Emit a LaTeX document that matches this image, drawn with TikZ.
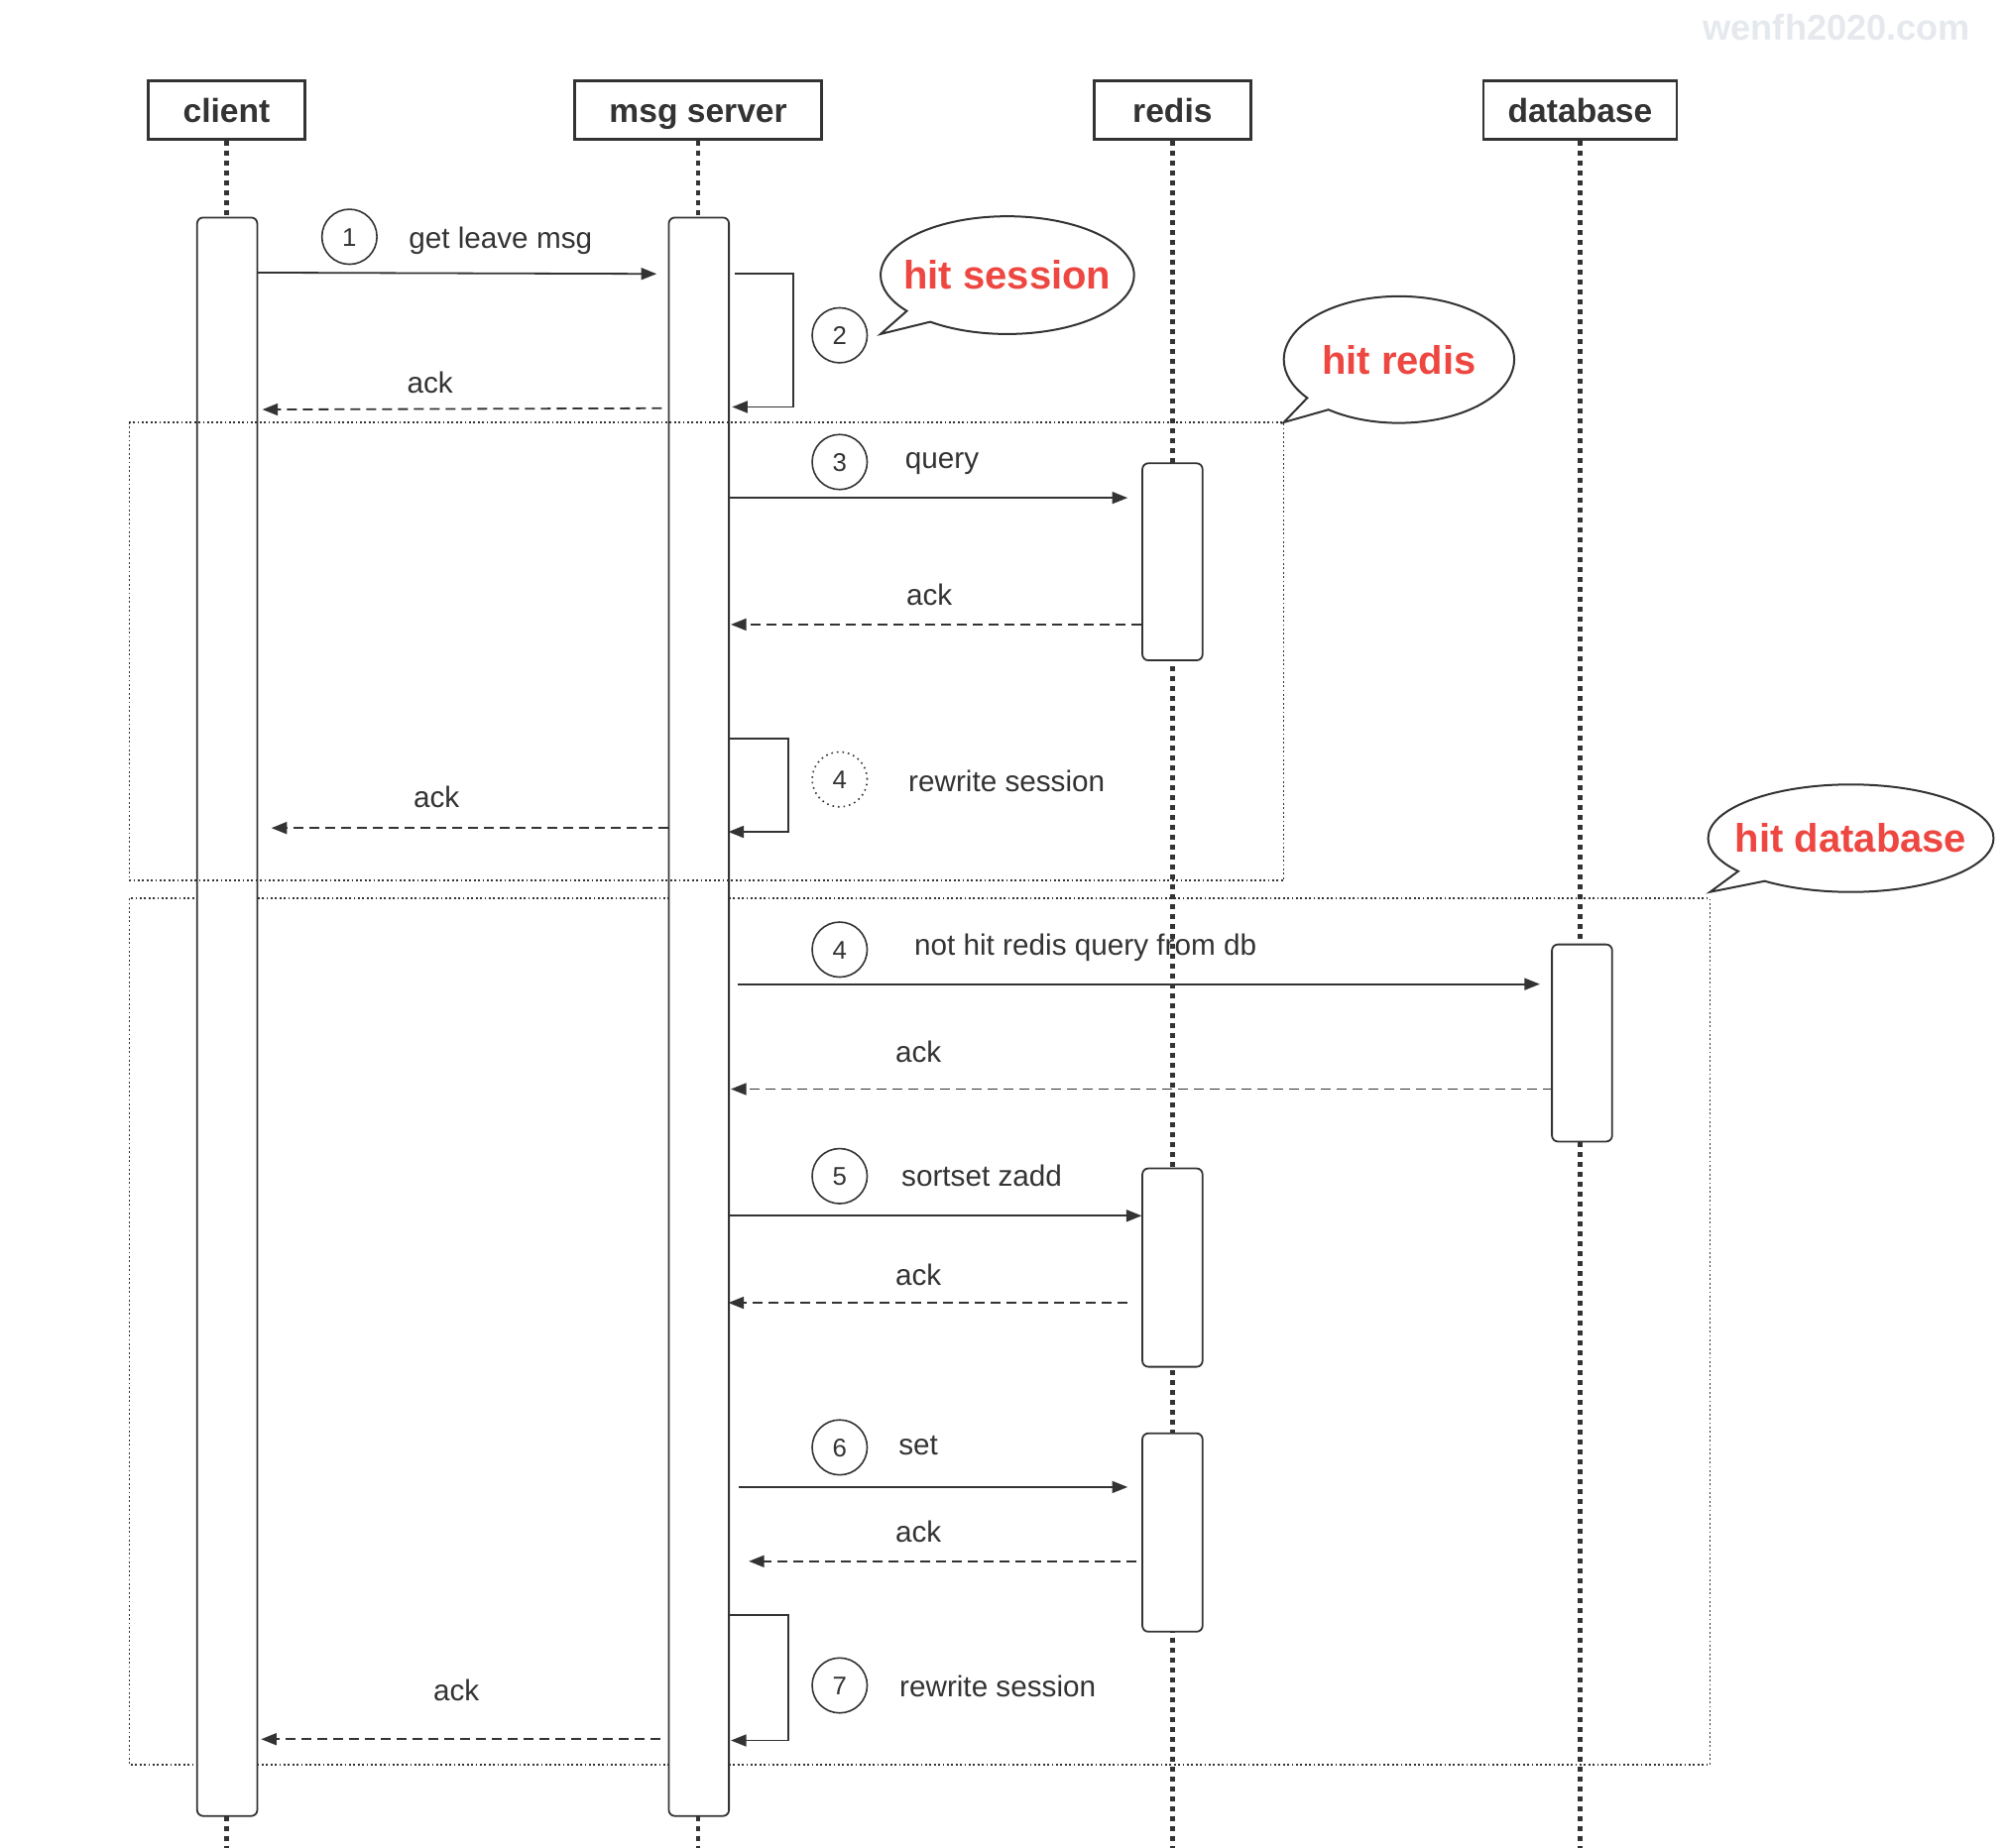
\documentclass[tikz,border=0pt]{standalone}
\usepackage{fontspec}
\setmainfont{Liberation Sans}
\usetikzlibrary{arrows.meta,shapes.callouts,shapes.geometric}
\newdimen\U \U=0.6454pt
\definecolor{ln}{RGB}{51,51,51}
\definecolor{hl}{RGB}{238,70,64}
\definecolor{wm}{RGB}{229,232,237}
\newcommand\fsz[1]{\fontsize{#1}{#1}\selectfont}
\tikzset{
  hdr/.style={draw=ln, line width=1.4pt, minimum width=#1, minimum height=46\U, inner sep=0,
    font=\bfseries\fsz{16.8pt}, text=ln, text height=12.0pt, text depth=0pt},
  life/.style={ln, line width=2.2pt, dash pattern=on 2.6pt off 2.4pt},
  actbar/.style={draw=ln, fill=white, line width=0.9pt, rounded corners=3pt, minimum width=47\U,
    minimum height=#1, inner sep=0},
  num/.style={circle, draw=ln, line width=0.8pt, minimum size=43\U, inner sep=0,
    font=\fsz{12.9pt}, text=ln, text height=9.2pt, text depth=0pt},
  lbl/.style={font=\fsz{14.85pt}, text=ln, inner sep=0, text height=10.6pt, text depth=0pt},
  msg/.style={ln, line width=0.9pt, -{Triangle[length=7.8pt, width=6pt]}},
  ret/.style={msg, dash pattern=on 5pt off 3pt},
  frm/.style={ln, line width=0.75pt, dash pattern=on 0.9pt off 1.3pt},
  bubble/.style={ellipse callout, draw=ln, fill=white, line width=1pt, inner sep=0},
  btxt/.style={font=\bfseries\fsz{20.0pt}, text=hl, inner sep=0, text height=14.3pt, text depth=0pt},
}
\begin{document}
\begin{tikzpicture}[x=0.6454pt,y=-0.6454pt]
\useasboundingbox (0,0) rectangle (1568,1444);

% watermark
\node[font=\bfseries\fsz{18.1pt}, text=wm, inner sep=0, text height=13pt, text depth=0pt] (wmark) at (1435,21) {wenfh2020.com};

% headers
\node[hdr=122\U] (client) at (177,86) {client};
\node[hdr=193\U] (server) at (545.5,86) {msg server};
\node[hdr=122\U] (redis) at (916,86) {redis};
\node[hdr=151\U] (db) at (1234.5,86) {database};

% lifelines
\coordinate (clientend) at (177,1450);
\coordinate (serverend) at (545.5,1450);
\coordinate (redisend) at (916,1450);
\coordinate (dbend) at (1234.5,1450);
\draw[life] (client.south) -- (clientend);
\draw[life] (server.south) -- (serverend);
\draw[life] (redis.south) -- (redisend);
\draw[life] (db.south) -- (dbend);

% lower frame (behind the bars)
\draw[frm] (101,702) rectangle (1336,1379);

% activation bars
\node[actbar=1249\U] (clientbar) at (177.5,794.5) {};
\node[actbar=1249\U] (serverbar) at (546,794.5) {};
\node[actbar=154\U] (redisbarA) at (916,439) {};
\node[actbar=155\U] (redisbarB) at (916,990.5) {};
\node[actbar=155\U] (redisbarC) at (916,1197.5) {};
\node[actbar=154\U] (dbbar) at (1236,815) {};

% upper frame (over the bars)
\draw[frm] (101,330) rectangle (1003,688);

% step markers
\node[num] (n1) at (273,185) {1};
\node[num] (n2) at (656,262) {2};
\node[num] (n3) at (656,361) {3};
\node[num, dotted] (n4a) at (656,609) {4};
\node[num] (n4b) at (656,742) {4};
\node[num] (n5) at (656,919) {5};
\node[num] (n6) at (656,1131) {6};
\node[num] (n7) at (656,1317) {7};

% labels
\node[lbl] (t1) at (391,186) {get leave msg};
\node[lbl] (t2) at (336,299) {ack};
\node[lbl] (t3) at (736,358) {query};
\node[lbl] (t4) at (726,465) {ack};
\node[lbl] (t5) at (786.5,610) {rewrite session};
\node[lbl] (t6) at (341,623) {ack};
\node[lbl] (t7) at (848,738) {not hit redis query from db};
\node[lbl] (t8) at (717.5,822) {ack};
\node[lbl] (t9) at (767,919) {sortset zadd};
\node[lbl] (t10) at (717.5,996) {ack};
\node[lbl] (t11) at (717.5,1129) {set};
\node[lbl] (t12) at (717.5,1197) {ack};
\node[lbl] (t13) at (779.5,1318) {rewrite session};
\node[lbl] (t14) at (356.5,1321) {ack};

% message coordinates
\coordinate (a1s) at (201,213);   \coordinate (a1e) at (513,214);
\coordinate (l1a) at (574,214);   \coordinate (l1b) at (620,214);
\coordinate (l1c) at (620,318);   \coordinate (l1d) at (572,318);
\coordinate (a2s) at (517,319);   \coordinate (a2e) at (205,320);
\coordinate (a3s) at (569,389);   \coordinate (a3e) at (881,389);
\coordinate (a4s) at (892,488);   \coordinate (a4e) at (571,488);
\coordinate (l2a) at (569,577);   \coordinate (l2b) at (616,577);
\coordinate (l2c) at (616,650);   \coordinate (l2d) at (569,650);
\coordinate (a5s) at (522,647);   \coordinate (a5e) at (212,647);
\coordinate (a6s) at (576,769);   \coordinate (a6e) at (1203,769);
\coordinate (a7s) at (1213,851);  \coordinate (a7e) at (571,851);
\coordinate (a8s) at (569,950);   \coordinate (a8e) at (892,950);
\coordinate (a9s) at (881,1018);  \coordinate (a9e) at (569,1018);
\coordinate (a10s) at (577,1162); \coordinate (a10e) at (881,1162);
\coordinate (a11s) at (888,1220); \coordinate (a11e) at (585,1220);
\coordinate (l3a) at (569,1262);  \coordinate (l3b) at (616,1262);
\coordinate (l3c) at (616,1360);  \coordinate (l3d) at (571,1360);
\coordinate (a12s) at (516,1359); \coordinate (a12e) at (204,1359);

\draw[msg] (a1s) -- (a1e);
\draw[msg] (l1a) -- (l1b) -- (l1c) -- (l1d);
\draw[ret] (a2s) -- (a2e);
\draw[msg] (a3s) -- (a3e);
\draw[ret] (a4s) -- (a4e);
\draw[msg] (l2a) -- (l2b) -- (l2c) -- (l2d);
\draw[ret] (a5s) -- (a5e);
\draw[msg] (a6s) -- (a6e);
\draw[ret] (a7s) -- (a7e);
\draw[msg] (a8s) -- (a8e);
\draw[ret] (a9s) -- (a9e);
\draw[msg] (a10s) -- (a10e);
\draw[ret] (a11s) -- (a11e);
\draw[msg] (l3a) -- (l3b) -- (l3c) -- (l3d);
\draw[ret] (a12s) -- (a12e);

% callouts
\node[bubble, minimum width=198\U, minimum height=92\U, callout absolute pointer={(688,261)}] (cs) at (787,215) {};
\node[btxt] (cst) at (cs.center) {hit session};
\node[bubble, minimum width=180\U, minimum height=99\U, callout absolute pointer={(1003,330)}] (cr) at (1093,281) {};
\node[btxt] (crt) at (cr.center) {hit redis};
\node[bubble, minimum width=223\U, minimum height=84\U, callout absolute pointer={(1336,697)}] (cd) at (1446,655) {};
\node[btxt] (cdt) at (cd.center) {hit database};
\end{tikzpicture}
\end{document}
